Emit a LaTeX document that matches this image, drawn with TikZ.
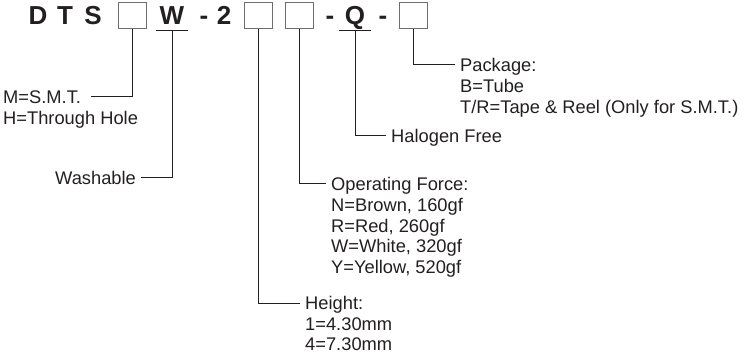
\documentclass[tikz,border=0pt]{standalone}
\usepackage{fontspec}
\setmainfont{Liberation Sans}
\usetikzlibrary{positioning}
\definecolor{ink}{HTML}{231F20}
\definecolor{slotgray}{HTML}{6D6E71}

\begin{document}
\begin{tikzpicture}[x=1pt, y=-1pt, node distance=7.5pt and 0pt]

	% Styles for the part number and the legend
	\tikzset{
		glyph/.style={font=\fontsize{26}{26}\selectfont\bfseries, text=ink, inner sep=0pt, anchor=base},
		marked/.style={glyph, text depth=5.5pt, minimum width=31pt},
		slot/.style={draw=slotgray, line width=1pt, minimum width=28pt, minimum height=26pt, inner sep=0pt},
		head/.style={font=\fontsize{18.3}{20.5}\selectfont, text=ink, inner xsep=5pt, inner ysep=0pt, text height=13pt, text depth=0pt},
		opts/.style={font=\fontsize{18.3}{20.5}\selectfont, text=ink, align=left, inner xsep=5pt, inner ysep=0pt},
		conn/.style={draw=ink, line width=1pt}
	}
	\useasboundingbox (0,0) rectangle (747,358);

	% Part number
	\node[glyph] (d) at (38,25) {D};
	\node[glyph] (t) at (65,25) {T};
	\node[glyph] (s) at (93,25) {S};
	\node[slot] (mount) at (132,16) {};
	\node[marked] (wash) at (172,25) {W};
	\node[glyph] (dasha) at (204,25) {-};
	\node[glyph] (two) at (224,25) {2};
	\node[slot] (hgt) at (258,16) {};
	\node[slot] (force) at (299,16) {};
	\node[glyph] (dashb) at (330,25) {-};
	\node[marked] (halo) at (355,25) {Q};
	\node[glyph] (dashc) at (383,25) {-};
	\node[slot] (pack) at (413,16) {};

	\draw[conn] (wash.south west) -- (wash.south east);
	\draw[conn] (halo.south west) -- (halo.south east);

	% Legend texts
	\node[head, inner xsep=10pt, anchor=west] (mountlbl) at (-7,97) {M=S.M.T.};
	\node[opts, inner xsep=10pt, below right=of mountlbl.south west] (mountopt) {H=Through Hole};

	\node[head, anchor=west] (washlbl) at (50,178) {Washable};

	\node[head, anchor=west] (hgtlbl) at (300,303) {Height:};
	\node[opts, below right=of hgtlbl.south west] (hgtopt) {1=4.30mm\\4=7.30mm};

	\node[head, anchor=west] (forcelbl) at (326,184) {Operating Force:};
	\node[opts, below right=of forcelbl.south west] (forceopt) {N=Brown, 160gf\\R=Red, 260gf\\W=White, 320gf\\Y=Yellow, 520gf};

	\node[head, anchor=west] (halolbl) at (386,136) {Halogen Free};

	\node[head, anchor=west] (packlbl) at (455,65) {Package:};
	\node[opts, below right=of packlbl.south west] (packopt) {B=Tube\\T/R=Tape \& Reel (Only for S.M.T.)};

	% Connectors
	\draw[conn] (mount.south) |- (mountlbl.east);
	\draw[conn] (wash.south) |- (washlbl.east);
	\draw[conn] (hgt.south) |- (hgtlbl.west);
	\draw[conn] (force.south) |- (forcelbl.west);
	\draw[conn] (halo.south) |- (halolbl.west);
	\draw[conn] (pack.south) |- (packlbl.west);

\end{tikzpicture}
\end{document}
